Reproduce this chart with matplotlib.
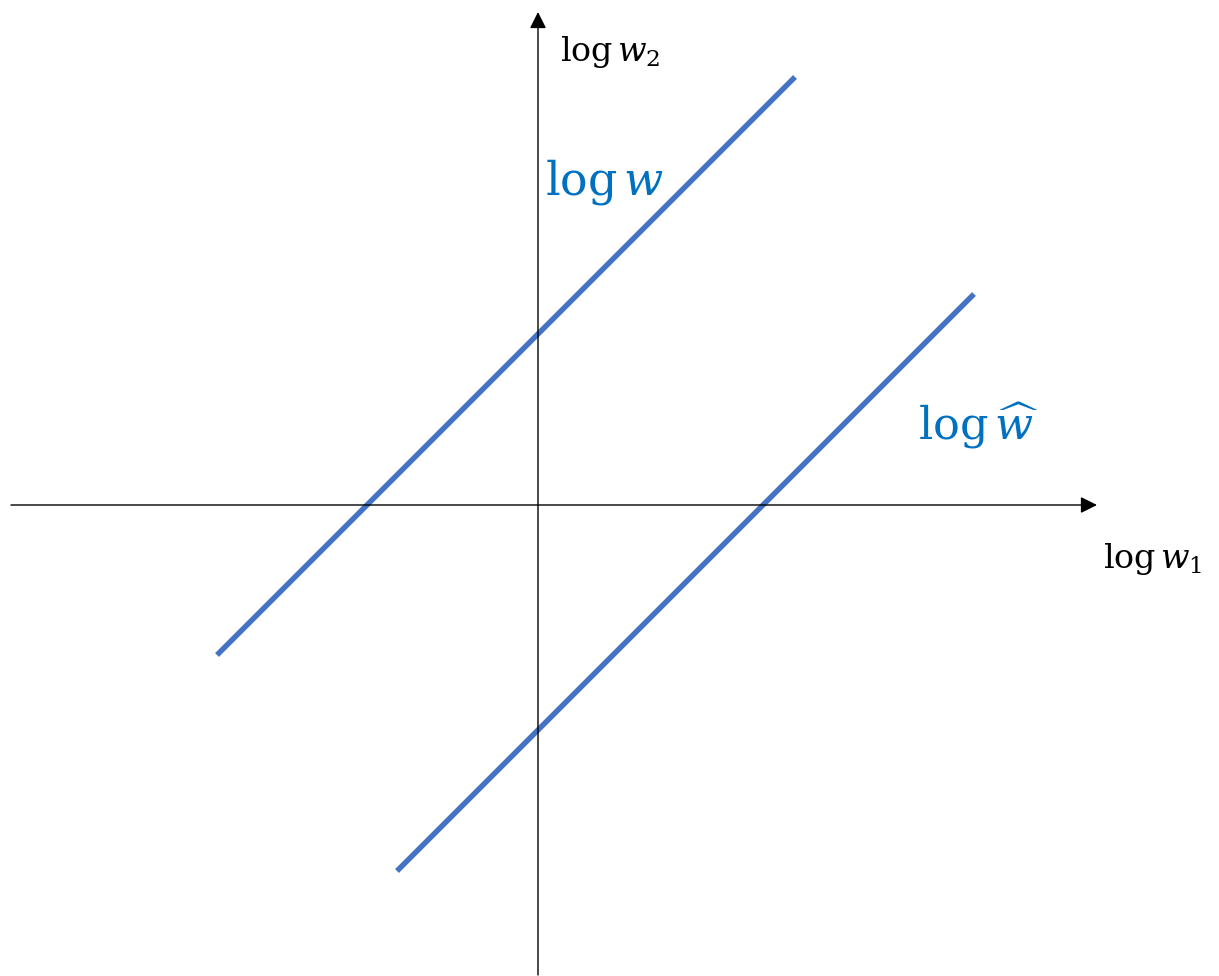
import matplotlib.pyplot as plt
import numpy as np

plt.rcParams['mathtext.fontset'] = 'dejavuserif'

# two parallel lines in (log w1, log w2) space
x_w = np.array([-3.21, 2.57])
y_w = x_w + 1.71
x_what = np.array([-1.41, 4.36])
y_what = x_what - 2.25

# axis extents
x_axis = (-5.27, 5.59)
y_axis = (-4.70, 4.93)

fig = plt.figure(figsize=(12.19, 9.76), dpi=100)
ax = fig.add_axes([0, 0, 1, 1])
ax.set_xlim(-5.38, 6.81)
ax.set_ylim(-4.71, 5.05)
ax.axis('off')

arrow = dict(arrowstyle='-|>,head_length=0.5,head_width=0.25', color='black',
             lw=1.0, mutation_scale=20, shrinkA=0, shrinkB=0)
ax.annotate('', xy=(x_axis[1], 0), xytext=(x_axis[0], 0), arrowprops=arrow)
ax.annotate('', xy=(0, y_axis[1]), xytext=(0, y_axis[0]), arrowprops=arrow)

blue = '#4472C4'
ax.plot(x_w, y_w, color=blue, lw=3.9, solid_capstyle='butt')
ax.plot(x_what, y_what, color=blue, lw=3.9, solid_capstyle='butt')

ax.text(0.22, 4.53, r'$\log w_2$', fontsize=24, ha='left', va='center')
ax.text(5.65, -0.54, r'$\log w_1$', fontsize=24, ha='left', va='center')
ax.text(0.07, 3.23, r'$\log w$', fontsize=33, ha='left', va='center', color='#0070C0')
ax.text(3.80, 0.79, r'$\log \widehat{w}$', fontsize=32, ha='left', va='center', color='#0070C0')

plt.savefig('out.png', dpi=100)
